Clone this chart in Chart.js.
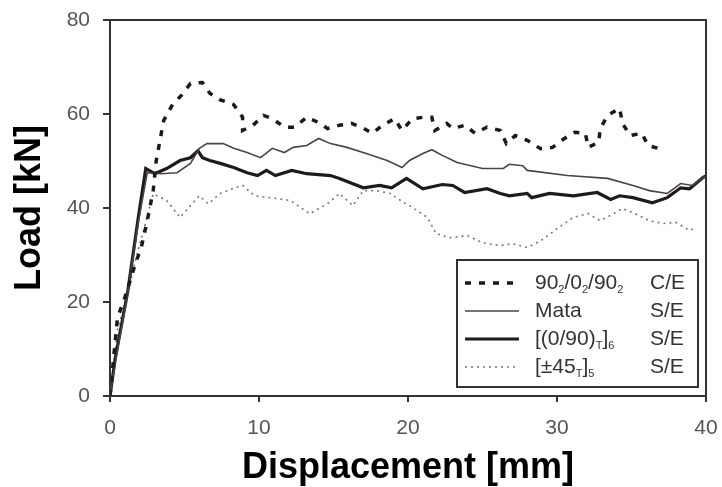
<!DOCTYPE html>
<html lang="en">
<head>
  <meta charset="UTF-8" />
  <title>Load vs Displacement</title>
  <script src="https://cdn.jsdelivr.net/npm/chart.js"></script>
  <style>
    html, body { margin: 0; padding: 0; background: white; }
    #wrap { width: 722px; height: 487px; }
  </style>
</head>
<body>
  <div id="wrap"><canvas id="loadChart" width="722" height="487"></canvas></div>

  <script>
    // 90/0/90 C/E
    const dispCE = [0, 0.5, 1.0, 1.7, 2.1, 2.5, 2.9, 3.1, 3.6, 4.2, 4.8, 5.4, 6.2, 6.7, 7.4, 8.3, 8.9, 8.9, 9.6, 10.3, 10.9, 11.7, 12.4, 13.2, 14.0, 14.6, 15.4, 16.2, 16.9, 17.6, 18.3, 19.1, 19.6, 20.3, 21.0, 21.6, 21.8, 22.6, 23.0, 23.8, 24.5, 25.3, 26.2, 26.6, 27.2, 28.0, 28.9, 29.7, 30.5, 31.2, 31.9, 32.1, 32.8, 32.9, 33.4, 34.2, 34.4, 34.9, 35.7, 36.1, 36.9];
    const loadCE = [0, 16.6, 21, 28.1, 31.6, 37.3, 43.7, 50, 58.6, 62, 64, 66.5, 66.7, 64.4, 63, 62, 59.3, 56.5, 57.6, 59.7, 59, 57.2, 57.2, 59.3, 58.2, 56.9, 57.6, 58, 57.2, 55.9, 57.6, 59, 56.5, 59, 59.3, 59.3, 56.5, 58, 56.9, 57.6, 55.9, 57.2, 56.5, 53.7, 55.4, 54.4, 52.6, 52.9, 54.8, 56.1, 55.9, 52.9, 54, 56.9, 59.7, 61.2, 58, 55.4, 55.9, 53.3, 52.6];

    // Mata S/E
    const dispMata = [0, 0.4, 1.2, 1.9, 2.5, 3.4, 4.5, 5.4, 6.0, 6.5, 7.6, 8.3, 9.2, 10.1, 10.9, 11.7, 12.3, 13.2, 14.0, 14.8, 15.9, 17.2, 18.6, 19.6, 20.1, 21.0, 21.6, 22.3, 23.3, 25.0, 26.4, 26.8, 27.7, 28.0, 30.7, 33.4, 35.1, 36.2, 37.4, 38.3, 39.1, 39.8, 40];
    const loadMata = [0, 8, 22, 37, 47.5, 47.3, 47.5, 49.5, 52.7, 53.7, 53.7, 52.7, 51.8, 50.7, 52.7, 51.8, 52.9, 53.3, 54.8, 53.7, 52.9, 51.6, 50.1, 48.6, 50.1, 51.6, 52.4, 51.2, 49.7, 48.4, 48.4, 49.3, 49, 48, 46.9, 46.3, 44.8, 43.7, 43.1, 45.2, 44.8, 46.5, 46.8];

    // [(0/90)T]6 S/E
    const dispCross = [0, 0.35, 1.2, 1.9, 2.4, 3.0, 3.8, 4.7, 5.4, 5.9, 6.2, 6.7, 7.4, 8.3, 9.2, 9.9, 10.5, 11.1, 12.2, 13.2, 14.8, 15.4, 17.0, 18.1, 18.9, 19.9, 21.0, 22.3, 23.0, 23.8, 25.3, 26.2, 26.8, 28.0, 28.3, 29.5, 31.1, 32.7, 33.6, 34.2, 35.1, 36.4, 37.4, 38.3, 38.9, 39.8, 40];
    const loadCross = [0, 8, 22.4, 38, 48.4, 47.3, 48.4, 50.1, 50.7, 52.2, 50.7, 50.1, 49.5, 48.6, 47.5, 46.9, 48, 46.9, 48, 47.3, 46.9, 46.3, 44.3, 44.8, 44.3, 46.3, 44.1, 45, 44.8, 43.3, 44.1, 43.1, 42.6, 43.1, 42.2, 43.1, 42.6, 43.3, 41.8, 42.6, 42.2, 41.1, 42.2, 44.3, 44.1, 46.5, 46.8];

    // [±45T]5 S/E
    const dispAng = [0, 0.5, 1.2, 1.8, 2.3, 2.9, 3.8, 4.7, 5.4, 6.0, 6.6, 7.4, 8.2, 8.9, 9.7, 11.2, 12.1, 13.4, 14.6, 15.4, 16.3, 17.0, 17.9, 18.8, 19.5, 20.3, 21.3, 21.9, 22.8, 24.0, 25.0, 26.2, 27.0, 28.0, 28.9, 30.0, 31.1, 32.1, 32.9, 33.8, 34.4, 35.1, 36.2, 37.1, 38.0, 38.9, 39.3];
    const loadAng = [0, 14, 22, 30, 35.8, 43, 41.6, 38, 40.5, 42.6, 40.9, 43.1, 44.1, 44.8, 42.6, 42, 41.6, 38.8, 40.9, 43.1, 40.5, 43.7, 43.7, 43.1, 41.6, 40.1, 38, 34.5, 33.7, 34.1, 32.6, 32, 32.4, 31.6, 33, 35.6, 38, 38.8, 37.3, 38.8, 39.9, 39, 37.3, 36.7, 36.9, 35.2, 35.8];

    const xTicks = [0, 10, 20, 30, 40];
    const yTicks = [0, 20, 40, 60, 80];

    const pts = (xs, ys) => xs.map((x, i) => ({ x: x, y: ys[i] }));

    const datasets = [
      {
        label: ['90', '_2', '/0', '_2', '/90', '_2'], tag: 'C/E',
        data: pts(dispCE, loadCE),
        borderColor: '#1a1a1a', borderWidth: 3.5, borderDash: [6, 8]
      },
      {
        label: ['Mata'], tag: 'S/E',
        data: pts(dispMata, loadMata),
        borderColor: '#4a4444', borderWidth: 1.6
      },
      {
        label: ['[(0/90)', '_T', ']', '_6'], tag: 'S/E',
        data: pts(dispCross, loadCross),
        borderColor: '#1e1a1a', borderWidth: 3.2
      },
      {
        label: ['[±45', '_T', ']', '_5'], tag: 'S/E',
        data: pts(dispAng, loadAng),
        borderColor: '#777', borderWidth: 1.6, borderDash: [2, 4]
      }
    ];
    datasets.forEach(d => { d.pointRadius = 0; d.tension = 0; d.fill = false; });

    const FONT = '"Liberation Sans", Arial, sans-serif';

    // frame around the plot area
    const framePlugin = {
      id: 'frame',
      afterDraw(chart) {
        const { ctx, chartArea: a } = chart;
        ctx.save();
        ctx.strokeStyle = '#333';
        ctx.lineWidth = 2;
        ctx.strokeRect(a.left, a.top, a.right - a.left, a.bottom - a.top);
        ctx.restore();
      }
    };

    // boxed legend with subscripted labels
    const legendPlugin = {
      id: 'subLegend',
      afterDraw(chart) {
        const ctx = chart.ctx;
        const box = { x: 457, y: 260, w: 241, h: 127 };
        ctx.save();
        ctx.fillStyle = 'white';
        ctx.fillRect(box.x, box.y, box.w, box.h);
        ctx.strokeStyle = '#333';
        ctx.lineWidth = 2;
        ctx.strokeRect(box.x, box.y, box.w, box.h);
        const rows = [283, 311, 339, 367];
        chart.data.datasets.forEach((ds, i) => {
          const y = rows[i];
          ctx.beginPath();
          ctx.setLineDash(ds.borderDash || []);
          ctx.strokeStyle = ds.borderColor;
          ctx.lineWidth = ds.borderWidth;
          ctx.moveTo(465, y);
          ctx.lineTo(519, y);
          ctx.stroke();
          ctx.setLineDash([]);
          ctx.fillStyle = '#333';
          ctx.textBaseline = 'middle';
          let x = 535;
          ds.label.forEach(part => {
            if (part.startsWith('_')) {
              ctx.font = '11px ' + FONT;
              ctx.fillText(part.slice(1), x, y + 7);
              x += ctx.measureText(part.slice(1)).width;
            } else {
              ctx.font = '21px ' + FONT;
              ctx.fillText(part, x, y);
              x += ctx.measureText(part).width;
            }
          });
          ctx.font = '21px ' + FONT;
          ctx.fillText(ds.tag, 650, y);
        });
        ctx.restore();
      }
    };

    const tickFont = { family: FONT, size: 21 };
    const titleFont = { family: FONT, size: 36, weight: 'bold' };

    new Chart(document.getElementById('loadChart').getContext('2d'), {
      type: 'line',
      data: { datasets: datasets },
      plugins: [framePlugin, legendPlugin],
      options: {
        responsive: false,
        animation: false,
        layout: { padding: { top: 20, right: 16, left: 0, bottom: 0 } },
        plugins: { legend: { display: false }, tooltip: { enabled: false } },
        scales: {
          x: {
            type: 'linear', min: 0, max: 40,
            afterBuildTicks: s => { s.ticks = xTicks.map(v => ({ value: v })); },
            afterFit: s => { s.height = 91; s.paddingLeft = 0; s.paddingRight = 0; },
            grid: { drawOnChartArea: false, tickLength: 6, color: '#333', lineWidth: 2 },
            border: { display: false },
            ticks: { color: '#555', font: tickFont, padding: 14 },
            title: { display: true, text: 'Displacement [mm]', color: '#000', font: titleFont, padding: { top: 0, bottom: -3 } }
          },
          y: {
            type: 'linear', min: 0, max: 80,
            afterBuildTicks: s => { s.ticks = yTicks.map(v => ({ value: v })); },
            afterFit: s => { s.width = 110; s.paddingTop = 0; s.paddingBottom = 0; },
            grid: { drawOnChartArea: false, tickLength: 7, color: '#333', lineWidth: 2 },
            border: { display: false },
            ticks: { color: '#555', font: tickFont, padding: 13 },
            title: { display: true, text: 'Load [kN]', color: '#000', font: titleFont, padding: { top: 8, bottom: 0 } }
          }
        }
      }
    });
  </script>
</body>
</html>
